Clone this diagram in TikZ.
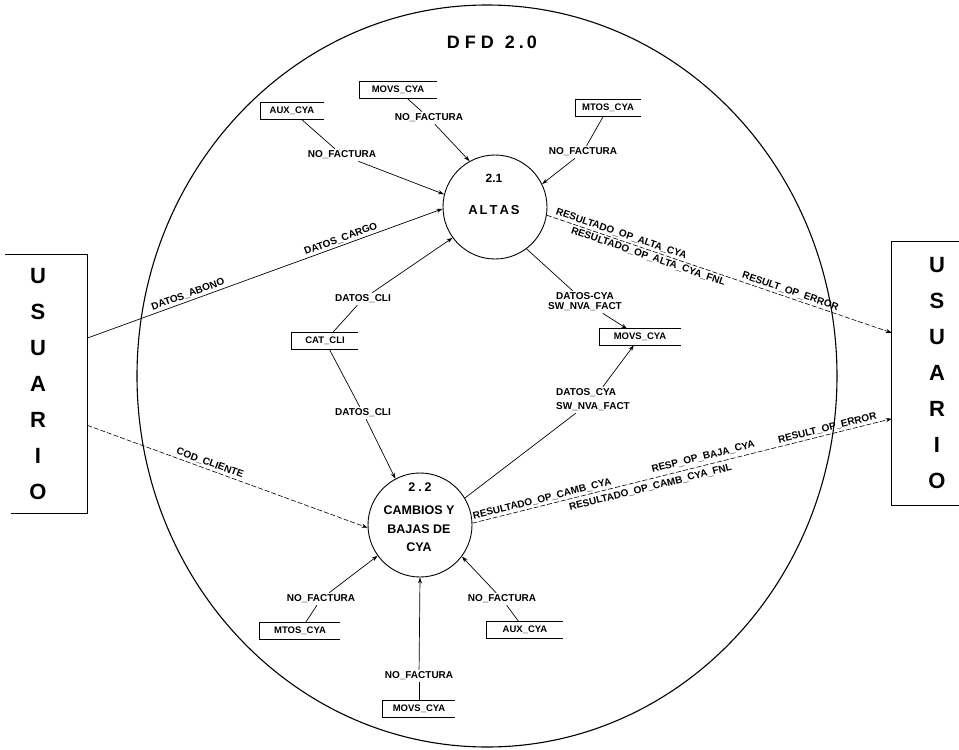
\documentclass[tikz,border=0pt]{standalone}
\usepackage{fontspec}
\setmainfont{Liberation Sans}
\usetikzlibrary{arrows.meta,calc}

\begin{document}
\begin{tikzpicture}[x=1pt,y=-1pt,
  every node/.style={inner sep=1pt},
  flow/.style={line width=0.7pt},
  arr/.style={flow,-{Stealth[length=6pt,width=4pt]}},
  dflow/.style={arr,line width=0.6pt,dash pattern=on 5pt off 2pt},
  lbl/.style={font=\bfseries\fontsize{10}{10}\selectfont,inner sep=2pt},
  proctext/.style={font=\bfseries\fontsize{12.5}{18.5}\selectfont,align=center},
  userbox/.style={font=\bfseries\fontsize{22}{36}\selectfont,align=center},
  boxline/.style={line width=0.9pt},
  store/.style={font=\bfseries\fontsize{9.5}{10}\selectfont,minimum height=16pt,inner xsep=5pt,
    append after command={\pgfextra{\draw[line width=0.8pt]
      (\tikzlastnode.north east) -- (\tikzlastnode.north west) --
      (\tikzlastnode.south west) -- (\tikzlastnode.south east);}}},
  proc/.style={circle,draw,line width=0.9pt,minimum size=104pt}
]
\useasboundingbox (0,0) rectangle (959,750);

% context boundary of the level-2 diagram
\draw[line width=1.1pt] (487,376) ellipse [x radius=350, y radius=371];
\node[font=\bfseries\fontsize{18}{18}\selectfont] (title) at (492,42)
  {D\kern5pt F\kern5pt D\kern11pt 2\kern4pt.\kern3pt0};

% external entities
\node[userbox,minimum width=98pt,minimum height=259pt] (usrL) at (38,384)
  {U\\S\\U\\A\\R\\I\\O};
\draw[boxline] ($(usrL.north west)+(16,0)$) -- (usrL.north east)
  -- (usrL.south east) -- ($(usrL.south west)+(22,0)$);
\node[userbox,minimum width=90pt,minimum height=263pt] (usrR) at (937,373.5)
  {U\\S\\U\\A\\R\\I\\O};
\draw[boxline] (usrR.north east) -- (usrR.north west)
  -- (usrR.south west) -- (usrR.south east);

% processes
\node[proc] (altas) at (495,207) {};
\node[font=\bfseries\fontsize{12}{12}\selectfont] (altasNum) at (494,178) {2.1};
\node[font=\bfseries\fontsize{13}{13}\selectfont] (altasName) at (494,210)
  {A\kern2pt L\kern2pt T\kern2pt A\kern2pt S};
\node[proc] (camb) at (420,525) {};
\node[font=\bfseries\fontsize{12.5}{12.5}\selectfont] (cambNum) at (420,487) {2\kern3pt.\kern3pt2};
\node[proctext] (cambName) at (419,529) {CAMBIOS Y\\BAJAS DE\\CYA};

% data stores
\node[store,minimum width=63pt] (auxA) at (292,111) {AUX\_CYA};
\node[store,minimum width=77pt] (movsA) at (398,90) {MOVS\_CYA};
\node[store,minimum width=65pt] (mtosA) at (608,108) {MTOS\_CYA};
\node[store,minimum width=66pt] (catcli) at (325,341) {CAT\_CLI};
\node[store,minimum width=81pt] (movsM) at (640,337) {MOVS\_CYA};
\node[store,minimum width=80pt] (mtosB) at (300,631) {MTOS\_CYA};
\node[store,minimum width=76pt] (auxB) at (525,630) {AUX\_CYA};
\node[store,minimum width=72pt] (movsB) at (419,709) {MOVS\_CYA};

% labels that interrupt their flows
\node[lbl] (nfA) at (342,155) {NO\_FACTURA};
\node[lbl] (nfB) at (429,118) {NO\_FACTURA};
\node[lbl] (nfC) at (583,152) {NO\_FACTURA};
\node[lbl] (cliA) at (363,299) {DATOS\_CLI};
\node[lbl] (cliB) at (363,413) {DATOS\_CLI};
\node[lbl,align=center] (cyaA) at (585,302) {DATOS-CYA\\SW\_NVA\_FACT};
\node[lbl,align=left,font=\bfseries\fontsize{10}{14}\selectfont] (cyaB) at (593,400)
  {DATOS\_CYA\\SW\_NVA\_FACT};
\node[lbl] (nfD) at (321,599) {NO\_FACTURA};
\node[lbl] (nfE) at (419,676) {NO\_FACTURA};
\node[lbl] (nfF) at (502,599) {NO\_FACTURA};

% flows into ALTAS
\draw[flow] (auxA) -- (nfA);   \draw[arr] (nfA) -- (altas.166);
\draw[flow] (movsA) -- (nfB);  \draw[arr] (nfB) -- (altas.119);
\draw[flow] (mtosA) -- (nfC);  \draw[arr] (nfC) -- (altas.26);
\draw[flow] (catcli) -- (cliA); \draw[arr] (cliA) -- (altas.216);
\draw[arr] (usrL.43) --
  node[lbl,sloped,above,pos=0.29] (lab) {DATOS\_ABONO}
  node[lbl,sloped,above,pos=0.72] (lcar) {DATOS\_CARGO} (altas.182);

% flows between processes and MOVS_CYA
\draw[flow] (altas.307) -- (cyaA); \draw[arr] (cyaA) -- (movsM);
\draw[flow] (camb.31) -- (cyaB);   \draw[arr] (cyaB) -- (movsM);

% flows into CAMBIOS Y BAJAS
\draw[flow] (catcli) -- (cliB); \draw[arr] (cliB) -- (camb.118);
\draw[flow] (mtosB) -- (nfD);   \draw[arr] (nfD) -- (camb.216);
\draw[flow] (movsB) -- (nfE);   \draw[arr] (nfE) -- (camb.270);
\draw[flow] (auxB) -- (nfF);    \draw[arr] (nfF) -- (camb.323);
\draw[dflow] (usrL.320) --
  node[lbl,sloped,above,pos=0.43] (lcod) {COD\_CLIENTE} (camb.183);

% results back to the user
\draw[dflow] (altas.351) --
  node[lbl,sloped,above,pos=0.21] (ra1) {RESULTADO\_OP\_ALTA\_CYA}
  node[lbl,sloped,below,pos=0.30] (ra2) {RESULTADO\_OP\_ALTA\_CYA\_FNL}
  node[lbl,sloped,above,pos=0.70] (ra3) {RESULT\_OP\_ERROR} (usrR.138);
\draw[dflow] (camb.2) --
  node[lbl,sloped,above,pos=0.17] (rc1) {RESULTADO\_OP\_CAMB\_CYA}
  node[lbl,sloped,above=2pt,pos=0.555] (rc2) {RESP\_OP\_BAJA\_CYA}
  node[lbl,sloped,above,pos=0.85] (rc3) {RESULT\_OP\_ERROR}
  node[lbl,sloped,below=2pt,pos=0.42] (rc4) {RESULTADO\_OP\_CAMB\_CYA\_FNL} (usrR.225);
\end{tikzpicture}
\end{document}
